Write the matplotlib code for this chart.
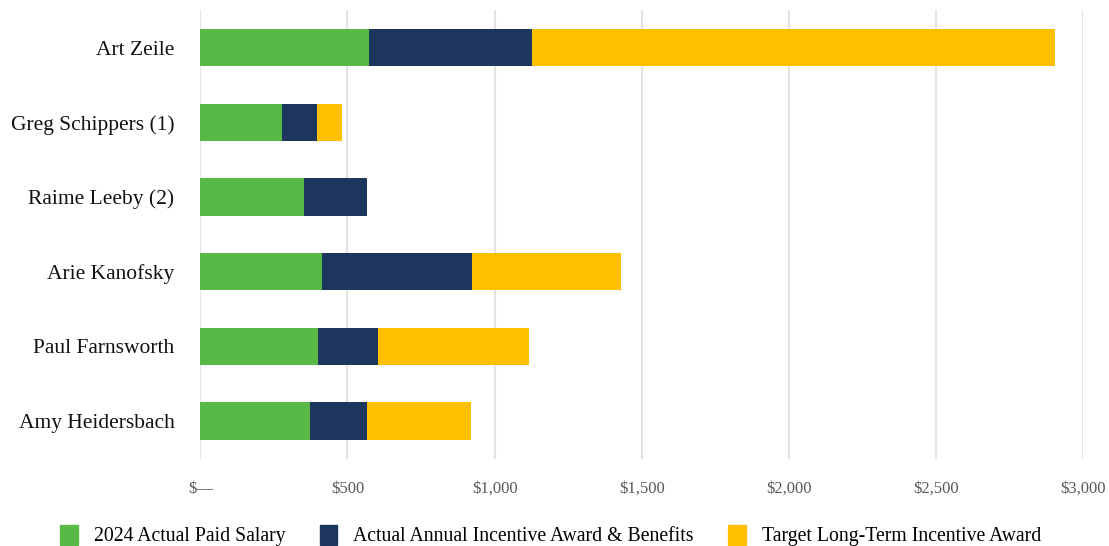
import matplotlib

matplotlib.use("Agg")
from matplotlib import pyplot as plt
from matplotlib.patches import Patch
from matplotlib.ticker import FuncFormatter

names = [
    "Art Zeile",
    "Greg Schippers (1)",
    "Raime Leeby (2)",
    "Arie Kanofsky",
    "Paul Farnsworth",
    "Amy Heidersbach",
]
salary = [572, 279, 351, 412, 401, 373]
annual_incentive = [556, 116, 215, 511, 204, 193]
long_term = [1776, 88, 0, 507, 511, 353]
series_labels = [
    "2024 Actual Paid Salary",
    "Actual Annual Incentive Award & Benefits",
    "Target Long-Term Incentive Award",
]
x_ticks = [0, 500, 1000, 1500, 2000, 2500, 3000]

colors = ["#58b947", "#1c365d", "#ffc000"]

plt.rcParams["font.family"] = ["Liberation Serif", "DejaVu Serif"]

fig = plt.figure(figsize=(11.09, 5.46), dpi=100)
ax = fig.add_axes([200.3 / 1109, 1 - 458.5 / 546, 883 / 1109, 448.2 / 546])

positions = list(range(len(names)))
left = [0] * len(names)
for values, color in zip((salary, annual_incentive, long_term), colors):
    ax.barh(positions, values, left=left, height=0.5, color=color, zorder=2)
    left = [a + b for a, b in zip(left, values)]

ax.set_xlim(0, 3000)
ax.set_ylim(len(names) - 0.5, -0.5)
ax.set_yticks(positions, names)
ax.set_xticks(x_ticks)
ax.xaxis.set_major_formatter(
    FuncFormatter(lambda v, _: "$\u2014" if v == 0 else f"${v:,.0f}")
)
ax.tick_params(axis="y", length=0, pad=18.5, labelsize=15.5, labelcolor="#111111")
ax.tick_params(axis="x", length=0, pad=16, labelsize=12, labelcolor="#595959")
ax.grid(axis="x", color="#e3e3e3", linewidth=1.5, zorder=0)
for spine in ax.spines.values():
    spine.set_visible(False)

handles = [Patch(color=c, label=l) for c, l in zip(colors, series_labels)]
fig.legend(
    handles=handles,
    loc="center",
    bbox_to_anchor=(550.5 / 1109, 1 - 535.5 / 546),
    ncol=3,
    frameon=False,
    fontsize=14.2,
    handlelength=0.9,
    handleheight=1.18,
    handletextpad=0.8,
    columnspacing=1.75,
    borderaxespad=0,
)

fig.savefig("out.png", dpi=100)
